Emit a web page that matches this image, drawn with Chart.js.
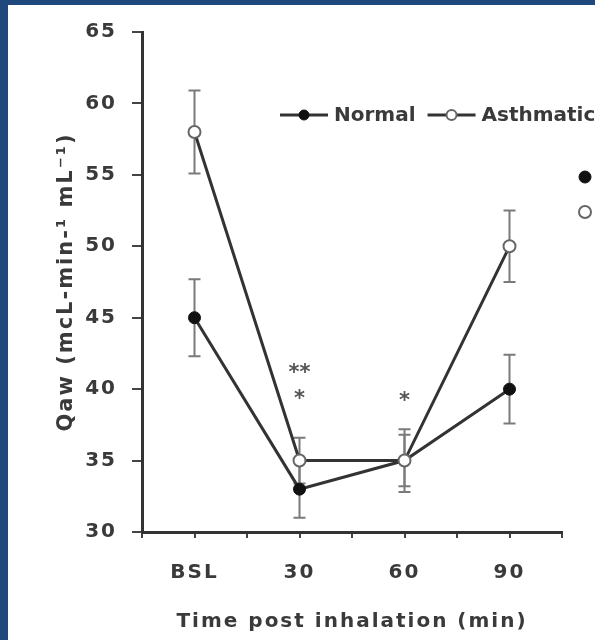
<!DOCTYPE html>
<html>
<head>
<meta charset="utf-8">
<script src="https://cdn.jsdelivr.net/npm/chart.js@4.4.1/dist/chart.umd.min.js"></script>
<style>
  html, body { margin: 0; padding: 0; background: #1f497d; }
  #wrap { position: absolute; left: 8px; top: 5px; width: 587px; height: 635px; background: #fff; overflow: hidden; }
</style>
</head>
<body>
<div id="wrap"><canvas id="qawChart" width="587" height="635"></canvas></div>
<script>
// values
const categories = ['BSL', '30', '60', '90'];
const normalMean = [45, 33, 35, 40];
const normalErr = [2.7, 2.0, 1.8, 2.4];
const asthmaticMean = [58, 35, 35, 50];
const asthmaticErr = [2.9, 1.6, 2.2, 2.5];
// significance marks (category index, y value)
const sigMarks = [
    { x: 1, y: 41.1, text: '**' },
    { x: 1, y: 39.3, text: '*' },
    { x: 2, y: 39.1, text: '*' }
];

const textColor = '#3a3a3a';
const axisColor = '#333';
Chart.defaults.font.family = 'DejaVu Sans';

function toPoints(arr) {
    return arr.map((v, i) => ({ x: i, y: v }));
}

const spacing = {
    id: 'spacing',
    beforeDraw(chart) {
        chart.ctx.letterSpacing = '2px';
    }
};

const errorBars = {
    id: 'errorBars',
    beforeDatasetsDraw(chart) {
        const { ctx, scales: { x, y } } = chart;
        ctx.save();
        ctx.strokeStyle = '#7a7a7a';
        ctx.lineWidth = 2;
        chart.data.datasets.forEach(ds => {
            ds.data.forEach((p, i) => {
                const px = x.getPixelForValue(p.x);
                const top = y.getPixelForValue(p.y + ds.errors[i]);
                const bot = y.getPixelForValue(p.y - ds.errors[i]);
                ctx.beginPath();
                ctx.moveTo(px, top); ctx.lineTo(px, bot);
                ctx.moveTo(px - 6, top); ctx.lineTo(px + 6, top);
                ctx.moveTo(px - 6, bot); ctx.lineTo(px + 6, bot);
                ctx.stroke();
            });
        });
        ctx.restore();
    }
};

const sigText = {
    id: 'sigText',
    afterDatasetsDraw(chart) {
        const { ctx, scales: { x, y } } = chart;
        ctx.save();
        ctx.fillStyle = '#555';
        ctx.font = 'bold 21px "DejaVu Sans"';
        ctx.textAlign = 'center';
        ctx.textBaseline = 'middle';
        ctx.letterSpacing = '0px';
        sigMarks.forEach(m => {
            ctx.fillText(m.text, x.getPixelForValue(m.x), y.getPixelForValue(m.y));
        });
        ctx.restore();
    }
};

function drawMarker(ctx, ds, cx, cy, r) {
    ctx.beginPath();
    ctx.arc(cx, cy, r, 0, Math.PI * 2);
    ctx.fillStyle = ds.pointBackgroundColor;
    ctx.fill();
    ctx.lineWidth = ds.pointBorderWidth;
    ctx.strokeStyle = ds.pointBorderColor;
    ctx.stroke();
}

// key drawn inside the plot, line + marker + label
const insideKey = {
    id: 'insideKey',
    afterDraw(chart) {
        const ctx = chart.ctx;
        ctx.save();
        ctx.font = 'bold 20px "DejaVu Sans"';
        ctx.letterSpacing = '0px';
        ctx.textBaseline = 'middle';
        ctx.textAlign = 'left';
        let x = 272;
        const y = 110;
        chart.data.datasets.forEach(ds => {
            ctx.beginPath();
            ctx.strokeStyle = axisColor;
            ctx.lineWidth = 3;
            ctx.moveTo(x, y); ctx.lineTo(x + 48, y);
            ctx.stroke();
            drawMarker(ctx, ds, x + 24, y, 5);
            ctx.fillStyle = textColor;
            ctx.fillText(ds.label, x + 54, y + 1);
            x += 54 + ctx.measureText(ds.label).width + 12;
        });
        // symbols of a second key, cut off by the right edge
        drawMarker(ctx, chart.data.datasets[0], 577, 172, 6);
        drawMarker(ctx, chart.data.datasets[1], 577, 207, 6);
        ctx.restore();
    }
};

const ctx = document.getElementById('qawChart').getContext('2d');
const qawChart = new Chart(ctx, {
    type: 'line',
    data: {
        datasets: [
            {
                label: 'Normal',
                data: toPoints(normalMean),
                errors: normalErr,
                borderColor: axisColor,
                borderWidth: 3,
                pointRadius: 6,
                pointBackgroundColor: '#111',
                pointBorderColor: '#111',
                pointBorderWidth: 1,
                order: 1
            },
            {
                label: 'Asthmatic',
                data: toPoints(asthmaticMean),
                errors: asthmaticErr,
                borderColor: axisColor,
                borderWidth: 3,
                pointRadius: 6,
                pointBackgroundColor: '#fff',
                pointBorderColor: '#666',
                pointBorderWidth: 2,
                order: 0
            }
        ]
    },
    options: {
        responsive: false,
        animation: false,
        layout: { padding: { top: 20, right: 33, bottom: 0, left: 0 } },
        plugins: {
            legend: { display: false },
            tooltip: { enabled: false }
        },
        scales: {
            x: {
                type: 'linear',
                min: -0.5,
                max: 3.5,
                ticks: {
                    stepSize: 0.5,
                    autoSkip: false,
                    maxRotation: 0,
                    padding: 23,
                    color: textColor,
                    font: { size: 20, weight: 'bold' },
                    callback: v => Number.isInteger(v) ? categories[v] : ''
                },
                grid: { drawOnChartArea: false, tickLength: 6, color: '#444', lineWidth: 2 },
                border: { color: axisColor, width: 3 },
                title: {
                    display: true,
                    text: 'Time post inhalation (min)',
                    color: textColor,
                    font: { size: 20, weight: 'bold' },
                    padding: { top: 0, bottom: 6 }
                },
                afterFit: s => { s.height = 108; }
            },
            y: {
                min: 30,
                max: 65,
                ticks: {
                    stepSize: 5,
                    padding: 15,
                    color: textColor,
                    font: { size: 20, weight: 'bold' }
                },
                grid: { drawOnChartArea: false, tickLength: 10, color: '#444', lineWidth: 2 },
                border: { color: axisColor, width: 3 },
                title: {
                    display: true,
                    text: 'Qaw (mcL-min-¹ mL⁻¹)',
                    color: textColor,
                    font: { size: 21, weight: 'bold' },
                    padding: { top: 46, bottom: 0 }
                },
                afterFit: s => { s.width = 134; }
            }
        }
    },
    plugins: [spacing, errorBars, sigText, insideKey]
});
</script>
</body>
</html>
